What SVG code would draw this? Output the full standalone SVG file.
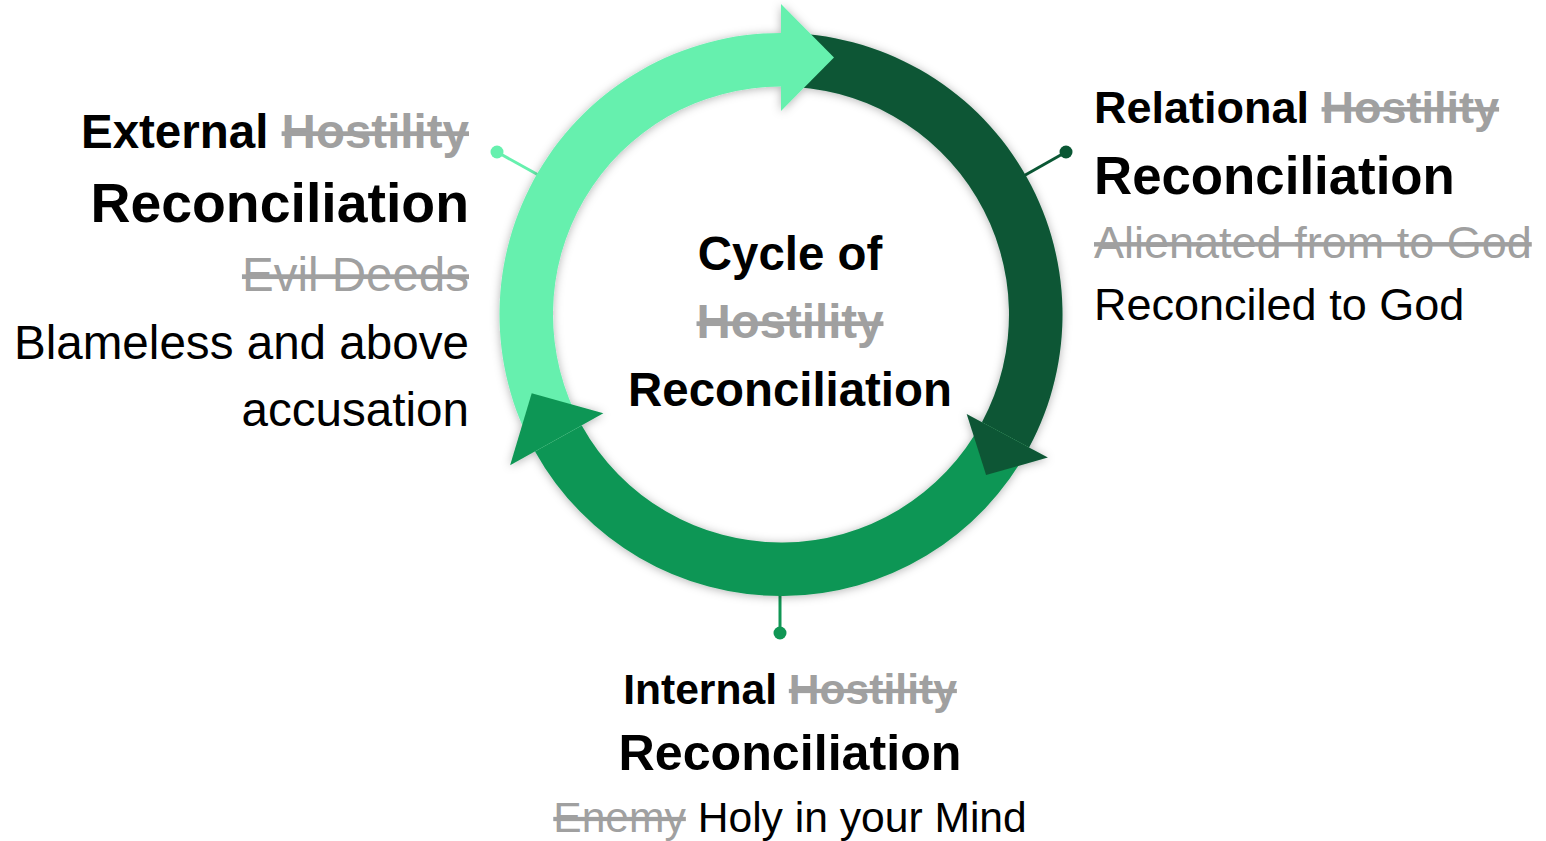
<svg xmlns="http://www.w3.org/2000/svg" width="1546" height="841" viewBox="0 0 1546 841">
<style>
text{font-family:"Liberation Sans",Arial,sans-serif;fill:#000}
.b{font-weight:bold}
.s{fill:#A0A0A0;text-decoration:line-through}
.mid{text-anchor:middle}
.end{text-anchor:end}
.lite{fill:#66F0AE}
.dark{fill:#0A5734}
.med{fill:#109654}
.conn{stroke-width:3;fill:none}
</style>
<defs>
<filter id="sh" x="-20%" y="-20%" width="140%" height="140%">
<feDropShadow dx="0" dy="1" stdDeviation="5" flood-color="#000" flood-opacity="0.3"/>
</filter>
</defs>
<rect width="1546" height="841" fill="#fff"/>
<g id="connectors">
<line class="conn" x1="497" y1="152" x2="542" y2="177" stroke="#66F0AE"/>
<circle cx="497" cy="152" r="6.5" class="lite"/>
<line class="conn" x1="1066" y1="152" x2="1020" y2="178" stroke="#0A5734"/>
<circle cx="1066" cy="152" r="6.5" class="dark"/>
<line class="conn" x1="780" y1="633" x2="780" y2="588" stroke="#109654"/>
<circle cx="780" cy="633" r="6.5" class="med"/>
</g>
<g id="cycle" filter="url(#sh)">
<path class="lite" d="M535.02 451.39 A281.5 281.5 0 0 1 781 33 L781 86.5 A228 228 0 0 0 581.77 425.38 Z"/>
<path class="dark" d="M781 33 A281.5 281.5 0 0 1 1029.09 447.54 L981.94 422.25 A228 228 0 0 0 781 86.5 Z"/>
<path class="med" d="M1029.09 447.54 A281.5 281.5 0 0 1 535.02 451.39 L581.77 425.38 A228 228 0 0 0 981.94 422.25 Z"/>
<polygon class="lite" points="781,4 834,57.5 781,111"/>
<polygon class="dark" points="1047.86,457.6 986.1,475.1 966.69,414.08"/>
<polygon class="med" points="510.12,465.25 531.7,393.3 603.36,413.36"/>
</g>
<g id="center">
<text class="b mid" x="790" y="270" font-size="47.4">Cycle of</text>
<text class="b mid s" x="790" y="338" font-size="47.4">Hostility</text>
<text class="b mid" x="790" y="406" font-size="47.4">Reconciliation</text>
</g>
<g id="external">
<text class="b end" x="469" y="148" font-size="47.5">External <tspan class="s">Hostility</tspan></text>
<text class="b end" x="469" y="222" font-size="55.4">Reconciliation</text>
<text class="end s" x="469" y="291" font-size="47.5">Evil Deeds</text>
<text class="end" x="469" y="359" font-size="47.6">Blameless and above</text>
<text class="end" x="469" y="426" font-size="47.6">accusation</text>
</g>
<g id="relational">
<text class="b" x="1094" y="123" font-size="45">Relational <tspan class="s">Hostility</tspan></text>
<text class="b" x="1094" y="194" font-size="52.8">Reconciliation</text>
<text class="s" x="1094" y="258" font-size="45">Alienated from to God</text>
<text x="1094" y="320" font-size="45">Reconciled to God</text>
</g>
<g id="internal">
<text class="b mid" x="790" y="704" font-size="42.6">Internal <tspan class="s">Hostility</tspan></text>
<text class="b mid" x="790" y="770" font-size="50.2">Reconciliation</text>
<text class="mid" x="790" y="832" font-size="42.6"><tspan class="s">Enemy</tspan> Holy in your Mind</text>
</g>
</svg>
